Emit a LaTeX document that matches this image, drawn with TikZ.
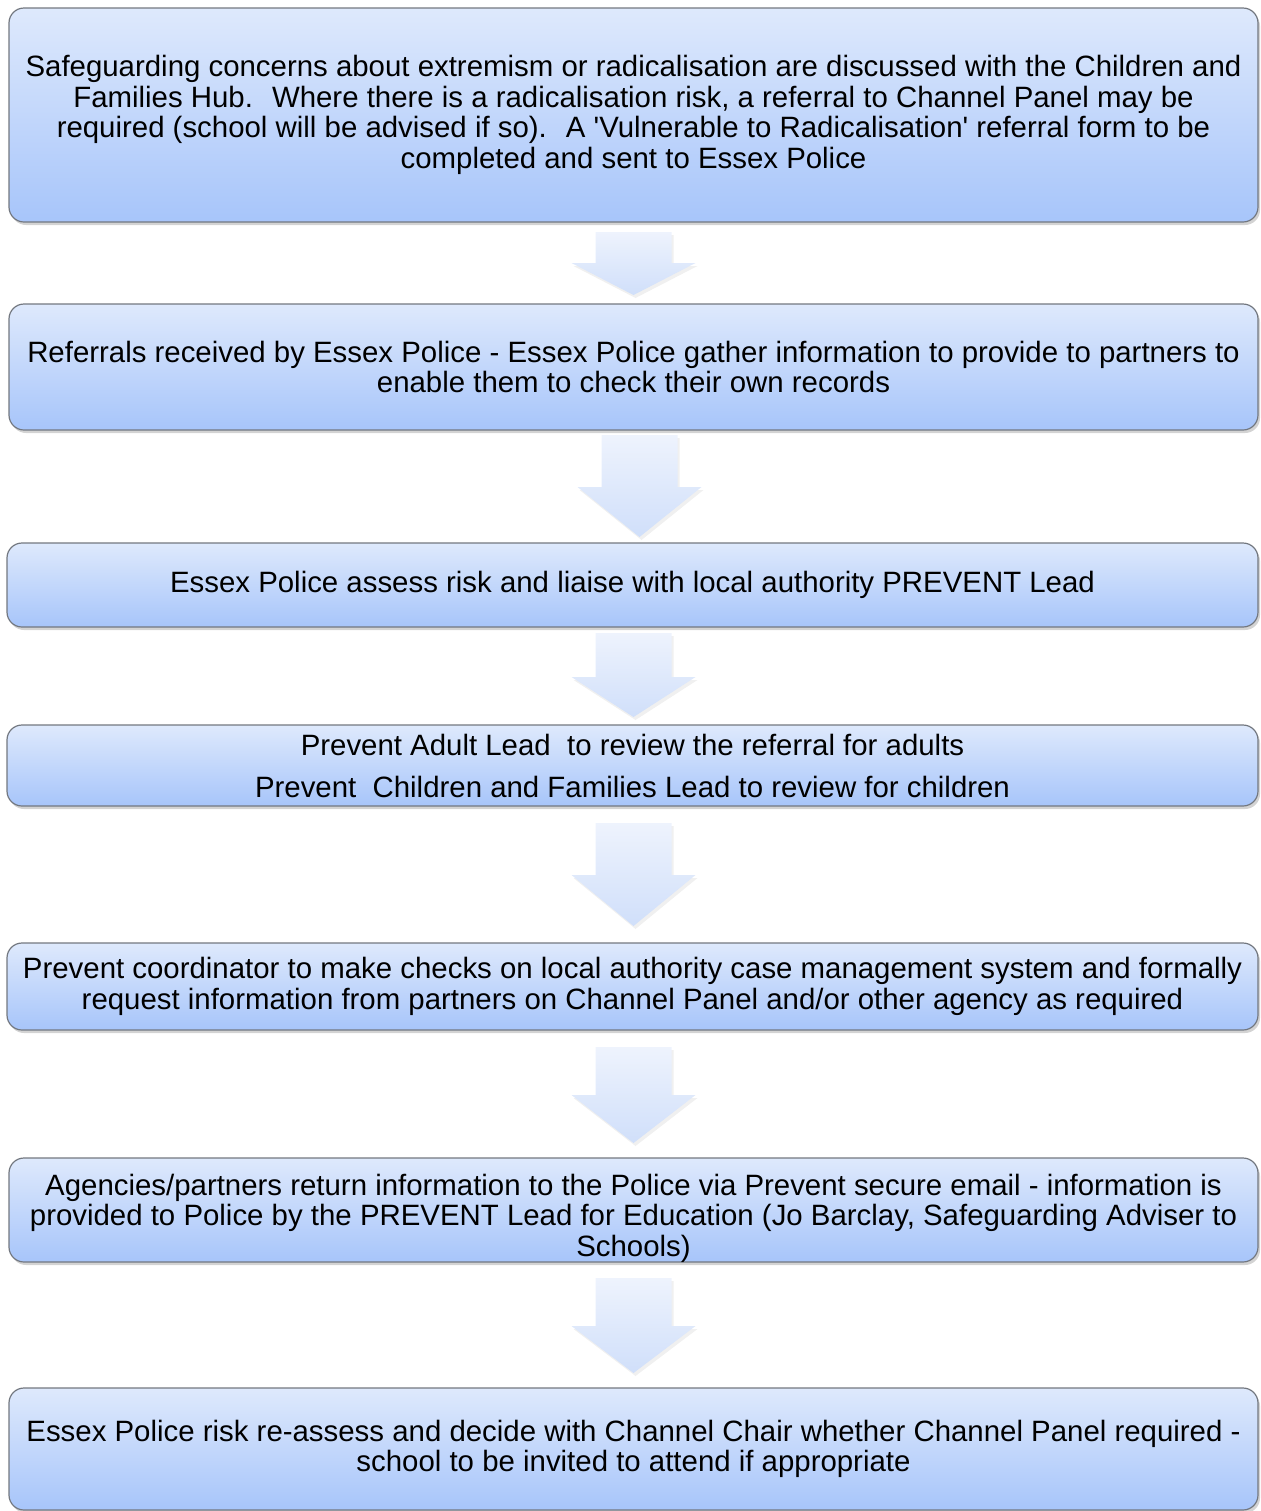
\documentclass[tikz,border=0pt]{standalone}
\usepackage{fontspec}
\setmainfont{Liberation Sans}
\usetikzlibrary{shadows}
\definecolor{boxtop}{HTML}{DEE9FC}
\definecolor{boxbot}{HTML}{A7C5FA}
\definecolor{arrtop}{HTML}{EEF3FD}
\definecolor{arrbot}{HTML}{D0DFFA}
\definecolor{boxline}{HTML}{737880}

\begin{document}
\begin{tikzpicture}[x=0.5pt, y=-0.5pt,
  boxtext/.style={align=center, inner sep=0pt, font=\fontsize{14.7}{15.25}\selectfont},
  box/.style={boxtext, draw=boxline, line width=0.6pt, rounded corners=7.5pt,
    top color=boxtop, bottom color=boxbot, minimum width=624.5pt,
    drop shadow={shadow xshift=1pt, shadow yshift=-1.5pt, opacity=0.35}},
  flow/.style={top color=arrtop, bottom color=arrbot,
    drop shadow={shadow xshift=1pt, shadow yshift=-1.5pt, opacity=0.12}}]
\useasboundingbox (0,0) rectangle (1260,1511);

\node[box, minimum height=107pt] (a) at (633.5,115) {Safeguarding concerns about extremism or radicalisation are discussed with the Children and\\
Families Hub.~ Where there is a radicalisation risk, a referral to Channel Panel may be\\
required (school will be advised if so).~ A \textquotesingle Vulnerable to Radicalisation\textquotesingle\ referral form to be\\
completed and sent to Essex Police};

\node[box, minimum height=63pt] (b) at (633.5,367) {Referrals received by Essex Police - Essex Police gather information to provide to partners to\\
enable them to check their own records};

\node[box, minimum height=42pt, minimum width=625.5pt] (c) at (632.5,585) {Essex Police assess risk and liaise with local authority PREVENT Lead};

\node[box, minimum height=40.5pt, minimum width=625.5pt] (d) at (632.5,765.5) {Prevent Adult Lead~ to review the referral for adults\\[5.75pt]
Prevent~ Children and Families Lead to review for children};

\node[box, minimum height=43.5pt, minimum width=625.5pt] (e) at (632.5,986.5) {Prevent coordinator to make checks on local authority case management system and formally\\
request information from partners on Channel Panel and/or other agency as required};

\node[box, minimum height=52pt] (f) at (633.5,1210) {};
\node[boxtext] (ft) at (633.5,1218) {Agencies/partners return information to the Police via Prevent secure email - information is\\
provided to Police by the PREVENT Lead for Education (Jo Barclay, Safeguarding Adviser to\\
Schools)};

\node[box, minimum height=61pt] (g) at (633.5,1449) {Essex Police risk re-assess and decide with Channel Chair whether Channel Panel required -\\
school to be invited to attend if appropriate};

% block arrows between the steps
\foreach \cx/\ya/\yb/\yc in {633.5/232/263/295, 639.5/435/487/537, 633.5/633/677/717,
    633.5/823/875/926, 633.5/1047/1095/1143, 633.5/1278/1326/1373}
  \path[flow] (\cx-38,\ya) -- (\cx+38,\ya) -- (\cx+38,\yb) -- (\cx+62,\yb)
    -- (\cx,\yc) -- (\cx-62,\yb) -- (\cx-38,\yb) -- cycle;
\end{tikzpicture}
\end{document}
